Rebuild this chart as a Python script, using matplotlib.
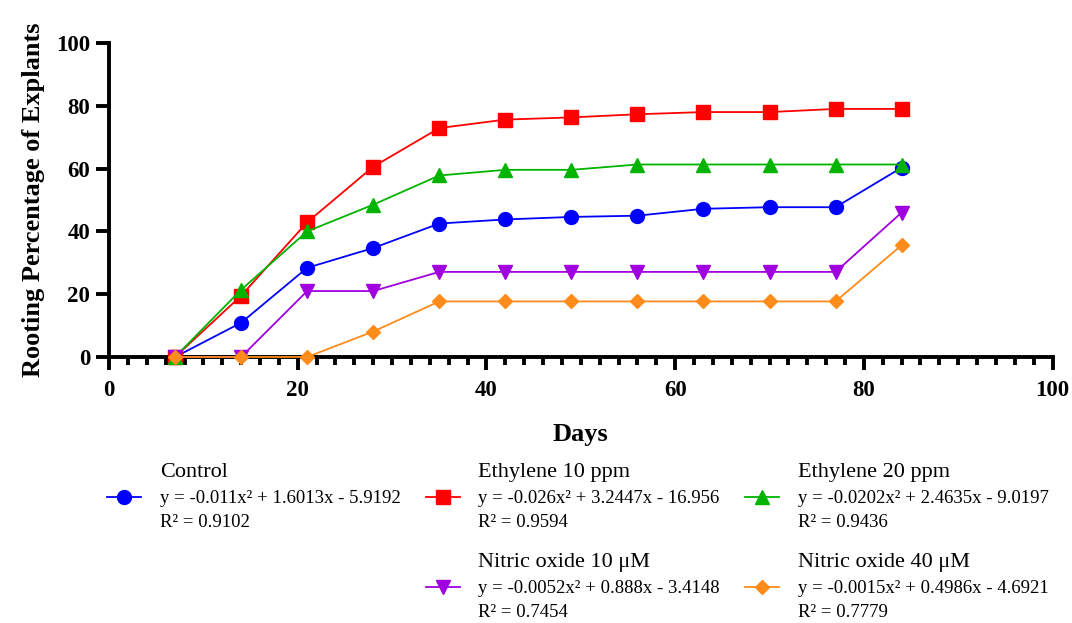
import matplotlib.pyplot as plt
from matplotlib.lines import Line2D

plt.rcParams['font.family'] = ['Liberation Serif', 'DejaVu Serif']

days = [7, 14, 21, 28, 35, 42, 49, 56, 63, 70, 77, 84]

control = [0, 10.9, 28.4, 34.7, 42.5, 43.8, 44.6, 45.0, 47.2, 47.7, 47.7, 60.3]
ethylene_10 = [0, 19.5, 42.9, 60.6, 72.9, 75.6, 76.3, 77.3, 78.0, 78.0, 79.0, 79.0]
ethylene_20 = [0, 21.4, 40.0, 48.5, 57.8, 59.6, 59.6, 61.3, 61.3, 61.3, 61.3, 61.3]
nitric_10 = [0, 0, 21.0, 21.0, 27.1, 27.1, 27.1, 27.1, 27.1, 27.1, 27.1, 46.0]
nitric_40 = [0, 0, 0, 8.1, 17.7, 17.7, 17.7, 17.7, 17.7, 17.7, 17.7, 35.6]

names = ['Control', 'Ethylene 10 ppm', 'Ethylene 20 ppm',
         'Nitric oxide 10 \u03bcM', 'Nitric oxide 40 \u03bcM']
equations = ['y = -0.011x\u00b2 + 1.6013x - 5.9192',
             'y = -0.026x\u00b2 + 3.2447x - 16.956',
             'y = -0.0202x\u00b2 + 2.4635x - 9.0197',
             'y = -0.0052x\u00b2 + 0.888x - 3.4148',
             'y = -0.0015x\u00b2 + 0.4986x - 4.6921']
r_squared = ['0.9102', '0.9594', '0.9436', '0.7454', '0.7779']

series = [control, ethylene_10, ethylene_20, nitric_10, nitric_40]
colors = ['#0000ff', '#ff0000', '#00b400', '#a000e0', '#ff8c1a']
markers = ['o', 's', '^', 'v', 'D']
sizes = [10, 10, 10, 10, 7]

W, H = 1072, 623
fig = plt.figure(figsize=(W / 100, H / 100), dpi=100)
ax = fig.add_axes([0.1017, 0.427, 0.8802, 0.504])

handles = []
for vals, c, m, s, eq in zip(series, colors, markers, sizes, equations):
    h, = ax.plot(days, vals, color=c, marker=m, markersize=s, linewidth=1.3,
                 clip_on=False, zorder=3, label=eq)
    handles.append(h)

ax.set_xlim(0, 100)
ax.set_ylim(0, 100)
ax.set_xticks(range(0, 101, 20))
ax.set_xticks(range(0, 101, 2), minor=True)
ax.set_yticks(range(0, 101, 20))
for side in ['top', 'right']:
    ax.spines[side].set_visible(False)
for side in ['left', 'bottom']:
    ax.spines[side].set_linewidth(2.8)
ax.tick_params(axis='both', which='major', direction='out', length=9.5, width=2.8,
               labelsize=16.5)
ax.tick_params(axis='x', which='major', pad=7)
ax.tick_params(axis='y', which='major', pad=4)
ax.tick_params(axis='x', which='minor', direction='out', length=5.5, width=2.8)
for lab in ax.get_xticklabels() + ax.get_yticklabels():
    lab.set_fontweight('bold')

ax.set_xlabel('Days', fontsize=19, fontweight='bold', labelpad=16)
ax.set_ylabel('Rooting Percentage of Explants', fontsize=19, fontweight='bold', labelpad=8)

# legend holds the equation line; series name above and R^2 below are added after
blank = Line2D([], [], linestyle='none', marker=None)
idx = [0, None, 1, 3, 2, 4]
order = [handles[i] if i is not None else blank for i in idx]
labels = [equations[i] if i is not None else '' for i in idx]
leg = fig.legend(order, labels, ncol=3, loc='upper left', bbox_to_anchor=(0.1, 0.2135),
                 frameon=False, fontsize=13.5, handlelength=1.8, handletextpad=1.0,
                 columnspacing=1.35, labelspacing=3.9, borderaxespad=0, borderpad=0)

fig.canvas.draw()
for t, i in zip(leg.get_texts(), idx):
    if i is None:
        continue
    bb = t.get_window_extent()
    x0 = bb.x0 / W
    yc = (bb.y0 + bb.y1) / 2 / H
    fig.text(x0, yc + 26 / H, names[i], fontsize=16, ha='left', va='center')
    fig.text(x0, yc - 24 / H, 'R\u00b2 = ' + r_squared[i], fontsize=13.5,
             ha='left', va='center')

fig.savefig('out.png', dpi=100)
